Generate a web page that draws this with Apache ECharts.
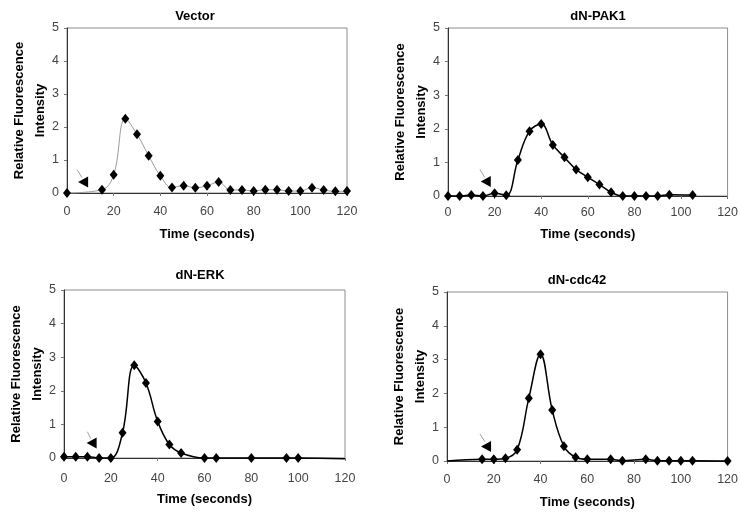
<!DOCTYPE html>
<html><head><meta charset="utf-8">
<script src="https://cdn.jsdelivr.net/npm/echarts@6/dist/echarts.min.js"></script>
<style>html,body{margin:0;padding:0;background:#fff}#c{width:741px;height:516px}</style>
</head><body><div id="c"></div>
<script>
// ---- data ----
const panelTitles = ['Vector', 'dN-PAK1', 'dN-ERK', 'dN-cdc42'];
const xAxisTitle = 'Time (seconds)';
const yAxisTitle = 'Relative Fluorescence\nIntensity';

const vectorTime  = [0,15,20,25,30,35,40,45,50,55,60,65,70,75,80,85,90,95,100,105,110,115,120];
const vectorValue = [0,0.1,0.55,2.25,1.78,1.13,0.52,0.17,0.22,0.16,0.22,0.33,0.09,0.09,0.06,0.1,0.1,0.06,0.06,0.16,0.09,0.05,0.06];
const vectorTailTime  = [125,132];
const vectorTailValue = [0.09,0.02];

const pak1Time  = [0,5,10,15,20,25,30,35,40,45,50,55,60,65,70,75,80,85,90,95,105];
const pak1Value = [0,0,0.03,0,0.08,0.02,1.07,1.93,2.14,1.52,1.15,0.79,0.56,0.34,0.11,0,0,0,0,0.04,0.03];

const erkTime  = [0,5,10,15,20,25,30,35,40,45,50,60,65,80,95,100];
const erkValue = [0.04,0.04,0.04,0,0,0.75,2.76,2.23,1.09,0.4,0.15,0,0,0,0,0];
const erkTailTime  = [120];
const erkTailValue = [-0.02];

const cdc42LeadTime  = [0];
const cdc42LeadValue = [0];
const cdc42Time  = [15,20,25,30,35,40,45,50,55,60,70,75,85,90,95,100,105,120];
const cdc42Value = [0.05,0.05,0.08,0.33,1.86,3.16,1.51,0.44,0.11,0.05,0.05,0.01,0.05,0.01,0.01,0.01,0.01,0];

// stimulus arrows (data coordinates): head centre, tail start, tail end
const arrowHead  = [[6.9,0.33],[16.2,0.43],[11.8,0.45],[16.7,0.43]];
const arrowTailA = [[4.4,0.70],[13.7,0.79],[10.0,0.78],[14.1,0.80]];
const arrowTailB = [[6.4,0.47],[15.8,0.55],[11.4,0.58],[16.2,0.57]];

// ---- chart ----
const FONT = 'Liberation Sans, Arial, sans-serif';
function pts(t, v, marked) {
  return t.map((x, i) => marked ? [x, v[i]] : { value: [x, v[i]], symbol: 'none' });
}
const seriesData = [
  pts(vectorTime, vectorValue, true).concat(pts(vectorTailTime, vectorTailValue, false)),
  pts(pak1Time, pak1Value, true),
  pts(erkTime, erkValue, true).concat(pts(erkTailTime, erkTailValue, false)),
  pts(cdc42LeadTime, cdc42LeadValue, false).concat(pts(cdc42Time, cdc42Value, true))
];

const grids = [
  { left: 67,  top: 28,  width: 280, height: 165 },
  { left: 448, top: 28,  width: 281, height: 168 },
  { left: 64,  top: 290, width: 281, height: 168 },
  { left: 447, top: 292, width: 281, height: 169 }
];
const titlePos = [[190, 5], [593, 5], [195, 264], [572, 269]];
const xLabelMargin = [12, 10, 14, 12];
const xNameGap = [35, 32, 35, 35];

const option = {
  animation: false,
  backgroundColor: '#fff',
  title: panelTitles.map((t, i) => ({
    text: t, left: titlePos[i][0], top: titlePos[i][1], textAlign: 'center',
    textStyle: { fontFamily: FONT, fontSize: 13, fontWeight: 'bold', color: '#000' }
  })),
  grid: grids.map(g => Object.assign({ show: true, borderColor: '#8c8c8c', borderWidth: 1, containLabel: false }, g)),
  xAxis: grids.map((g, i) => ({
    type: 'value', gridIndex: i, min: 0, max: 120, interval: 20,
    name: xAxisTitle, nameLocation: 'middle', nameGap: xNameGap[i], nameMoveOverlap: false,
    nameTextStyle: { fontFamily: FONT, fontSize: 13, fontWeight: 'bold', color: '#000' },
    axisLine: { show: true, lineStyle: { color: '#333', width: 1 } },
    axisTick: { show: true, length: 3, lineStyle: { color: '#777' } },
    axisLabel: { margin: xLabelMargin[i], fontFamily: FONT, fontSize: 12.5, color: '#444' },
    splitLine: { show: false }
  })),
  yAxis: grids.map((g, i) => ({
    type: 'value', gridIndex: i, min: 0, max: 5, interval: 1,
    name: yAxisTitle, nameLocation: 'middle', nameGap: 16, nameMoveOverlap: false,
    nameTextStyle: { fontFamily: FONT, fontSize: 13, fontWeight: 'bold', color: '#000', lineHeight: 21 },
    axisLine: { show: true, lineStyle: { color: '#333', width: 1 } },
    axisTick: { show: true, length: 3, lineStyle: { color: '#777' } },
    axisLabel: { margin: 8, fontFamily: FONT, fontSize: 12.5, color: '#444' },
    splitLine: { show: false }
  })),
  series: seriesData.map((d, i) => ({
    type: 'line', xAxisIndex: i, yAxisIndex: i, data: d, smooth: 0.4, clip: false,
    symbol: 'diamond', symbolSize: [8, 10], showSymbol: true,
    itemStyle: { color: '#000' },
    lineStyle: { color: i === 0 ? '#9a9a9a' : '#000', width: i === 0 ? 1 : 1.5 },
    markPoint: {
      silent: true, symbol: 'triangle', symbolSize: [11, 10], symbolRotate: 90,
      itemStyle: { color: '#000' }, label: { show: false },
      data: [{ coord: arrowHead[i] }]
    },
    markLine: {
      silent: true, symbol: ['none', 'none'], label: { show: false },
      lineStyle: { color: '#a0a0a0', width: 1, type: 'solid' },
      data: [[{ coord: arrowTailA[i] }, { coord: arrowTailB[i] }]]
    }
  }))
};
const chart = echarts.init(document.getElementById('c'), null, { renderer: 'canvas' });
chart.setOption(option);
</script>
</body></html>
